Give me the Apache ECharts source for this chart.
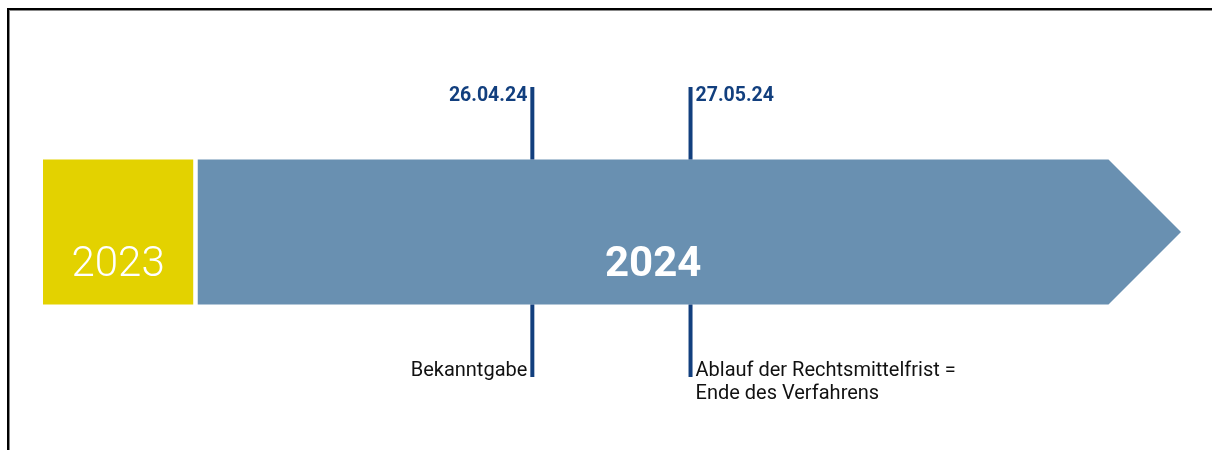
<!DOCTYPE html>
<html>
<head>
<meta charset="utf-8">
<script src="https://cdn.jsdelivr.net/npm/echarts@6/dist/echarts.min.js"></script>
<style>
  html, body { margin: 0; padding: 0; background: #fff; }
  #chart { width: 1212px; height: 450px; }
</style>
</head>
<body>
<div id="chart"></div>
<script>
// Zeitstrahl – Jahre und Ereignisse (x in Prozent der Zeitachse)
const years = ['2023', '2024'];
const yearStart = [0, 13.6];
const yearEnd = [13.2, 100];
const yearBold = [false, true];

const eventDates = ['26.04.24', '27.05.24'];
const eventPos = [43.0, 56.9];
const eventTexts = ['Bekanntgabe', 'Ablauf der Rechtsmittelfrist =\nEnde des Verfahrens'];

const YEAR_COLORS = ['#e3d200', '#6990b1'];
const TICK_COLOR = '#123f7e';
const FONT = 'Roboto, "Noto Sans", sans-serif';

const chart = echarts.init(document.getElementById('chart'));

function renderYear(params, api) {
  const i = params.dataIndex;
  const p0 = api.coord([api.value(0), 1]);
  const p1 = api.coord([api.value(1), -1]);
  const mid = api.coord([0, 0])[1];
  const half = (p1[1] - p0[1]) / 2;
  const isLast = i === years.length - 1;
  // letzter Block endet als Pfeil
  const shoulder = isLast ? p1[0] - half : p1[0];
  const points = isLast
    ? [[p0[0], p0[1]], [shoulder, p0[1]], [p1[0], mid], [shoulder, p1[1]], [p0[0], p1[1]]]
    : [[p0[0], p0[1]], [p1[0], p0[1]], [p1[0], p1[1]], [p0[0], p1[1]]];
  return {
    type: 'group',
    children: [
      { type: 'polygon', shape: { points }, style: { fill: YEAR_COLORS[i] } },
      {
        type: 'text',
        style: {
          text: years[i],
          x: (p0[0] + shoulder) / 2,
          y: mid + 33,
          fill: '#fff',
          font: (yearBold[i] ? 'bold ' : '300 ') + '42px ' + FONT,
          align: 'center',
          verticalAlign: 'middle',
        },
      },
    ],
  };
}

function renderEvent(params, api) {
  const i = params.dataIndex;
  const top = api.coord([api.value(0), 2]);
  const barTop = api.coord([api.value(0), 1]);
  const barBot = api.coord([api.value(0), -1]);
  const bot = api.coord([api.value(0), -2]);
  const x = top[0];
  const lineStyle = { stroke: TICK_COLOR, lineWidth: 4 };
  const leftSide = i === 0;
  return {
    type: 'group',
    children: [
      { type: 'line', shape: { x1: x, y1: top[1], x2: x, y2: barTop[1] }, style: lineStyle },
      { type: 'line', shape: { x1: x, y1: barBot[1], x2: x, y2: bot[1] }, style: lineStyle },
      {
        type: 'text',
        style: {
          text: eventDates[i],
          x: leftSide ? x - 5 : x + 5,
          y: top[1] + 9,
          fill: TICK_COLOR,
          font: 'bold 19.5px ' + FONT,
          align: leftSide ? 'right' : 'left',
          verticalAlign: 'middle',
        },
      },
      {
        type: 'text',
        style: {
          text: eventTexts[i],
          x: leftSide ? x - 5 : x + 5,
          y: bot[1] - 6 - 11.5,
          fill: '#111',
          font: '20px ' + FONT,
          lineHeight: 23,
          align: leftSide ? 'right' : 'left',
          verticalAlign: 'top',
        },
      },
    ],
  };
}

chart.setOption({
  animation: false,
  grid: { left: 43, right: 31, top: 87, bottom: 73 },
  xAxis: { type: 'value', min: 0, max: 100, show: false },
  yAxis: { type: 'value', min: -2, max: 2, show: false },
  graphic: [
    { type: 'rect', shape: { x: 7, y: 10, width: 1205, height: 1 }, style: { fill: '#888' } },
    { type: 'rect', shape: { x: 9, y: 10, width: 1, height: 440 }, style: { fill: '#888' } },
    { type: 'rect', shape: { x: 7, y: 8, width: 1205, height: 2 }, style: { fill: '#000' } },
    { type: 'rect', shape: { x: 7, y: 8, width: 2, height: 442 }, style: { fill: '#000' } },
  ],
  series: [
    {
      type: 'custom',
      renderItem: renderYear,
      data: years.map((y, i) => [yearStart[i], yearEnd[i]]),
    },
    {
      type: 'custom',
      renderItem: renderEvent,
      data: eventPos.map((p) => [p]),
    },
  ],
});
</script>
</body>
</html>
